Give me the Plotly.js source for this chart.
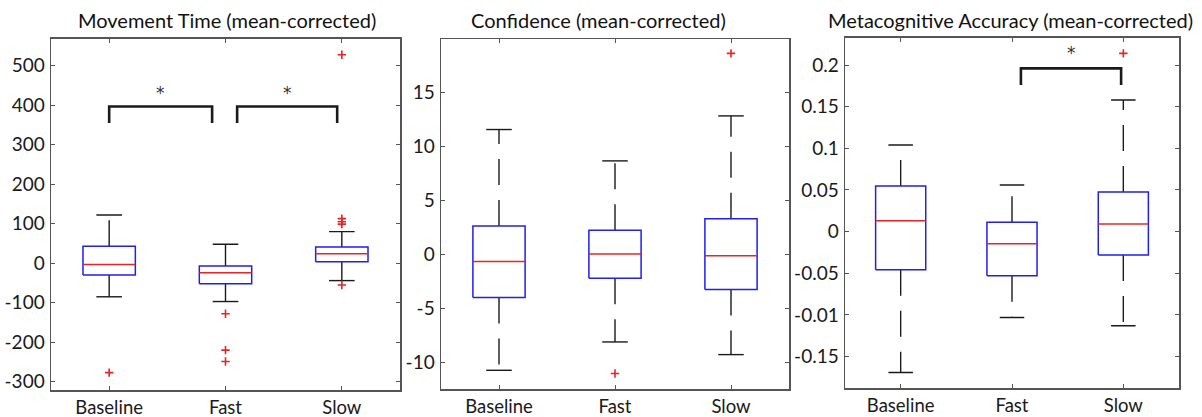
<!DOCTYPE html>
<html>
<head>
<meta charset="utf-8">
<script src="https://cdn.plot.ly/plotly-3.0.1.min.js"></script>
<style>
  html, body { margin: 0; padding: 0; background: #ffffff; }
  #chart { width: 1202px; height: 417px; }
</style>
</head>
<body>
<div id="chart"></div>
<script>
// ---------- data ----------
const categories = ["Baseline", "Fast", "Slow"];
const panelTitles = ["Movement Time (mean-corrected)", "Confidence (mean-corrected)", "Metacognitive Accuracy (mean-corrected)"];

// Movement Time
const mtLower    = [-85, -97, -44];
const mtQ1       = [-30, -52, 4];
const mtMedian   = [-3, -24, 24];
const mtQ3       = [43, -7, 41];
const mtUpper    = [122, 48, 80];
const mtOutliers = [[-277], [-128, -220, -249], [528, 113, 105, 99, -55]];
const mtTicks    = [-300, -200, -100, 0, 100, 200, 300, 400, 500];
const mtTickText = ["-300", "-200", "-100", "0", "100", "200", "300", "400", "500"];
const mtRange    = [-321, 569];
const mtSigX     = [[0, 0.885], [1.1, 1.96]];
const mtSigY     = [355, 397];
const mtStarY    = 432;

// Confidence
const confLower    = [-10.7, -8.08, -9.25];
const confQ1       = [-3.98, -2.19, -3.24];
const confMedian   = [-0.65, 0.06, -0.12];
const confQ3       = [2.65, 2.25, 3.30];
const confUpper    = [11.56, 8.66, 12.82];
const confOutliers = [[], [-11.0], [18.6]];
const confTicks    = [-10, -5, 0, 5, 10, 15];
const confTickText = ["-10", "-5", "0", "5", "10", "15"];
const confRange    = [-12.43, 19.93];

// Metacognitive Accuracy
const metaLower    = [-0.169, -0.103, -0.113];
const metaQ1       = [-0.0456, -0.0528, -0.028];
const metaMedian   = [0.0132, -0.0144, 0.0092];
const metaQ3       = [0.0548, 0.0112, 0.0476];
const metaUpper    = [0.104, 0.056, 0.158];
const metaOutliers = [[], [], [0.214]];
const metaTicks    = [-0.15, -0.1, -0.05, 0, 0.05, 0.1, 0.15, 0.2];
const metaTickText = ["-0.15", "-0.01", "-0.05", "0", "0.05", "0.1", "0.15", "0.2"];
const metaRange    = [-0.188, 0.233];
const metaSigX     = [[1.08, 1.98]];
const metaSigY     = [0.176, 0.196];
const metaStarY    = 0.2145;

// ---------- styling ----------
const W = 1202, H = 417;
const FONT = "Lato, Open Sans, sans-serif";
const BOX_HALF = 0.225, CAP_HALF = 0.11;
const BLUE = "#1f1fee", RED = "#ee2222", BLACK = "#1a1a1a", FRAME = "#555555";

const panels = [
  {lo: mtLower, q1: mtQ1, med: mtMedian, q3: mtQ3, hi: mtUpper, out: mtOutliers,
   ticks: mtTicks, tickText: mtTickText, range: mtRange, sigX: mtSigX, sigY: mtSigY, starY: mtStarY,
   px: [51, 400], py: [38.5, 390], titleX: 227},
  {lo: confLower, q1: confQ1, med: confMedian, q3: confQ3, hi: confUpper, out: confOutliers,
   ticks: confTicks, tickText: confTickText, range: confRange, sigX: [], sigY: null, starY: null,
   px: [441, 789], py: [39, 389], titleX: 598},
  {lo: metaLower, q1: metaQ1, med: metaMedian, q3: metaQ3, hi: metaUpper, out: metaOutliers,
   ticks: metaTicks, tickText: metaTickText, range: metaRange, sigX: metaSigX, sigY: metaSigY, starY: metaStarY,
   px: [845, 1179], py: [37.5, 388.3], titleX: 1010}
];

const traces = [];
const annotations = [];
const layout = {
  width: W, height: H,
  margin: {l: 0, r: 0, t: 0, b: 0},
  paper_bgcolor: "#ffffff", plot_bgcolor: "#ffffff",
  showlegend: false, hovermode: false,
  font: {family: FONT, color: "#222222", size: 18}
};

panels.forEach((p, k) => {
  const n = k === 0 ? "" : String(k + 1);
  const xa = "x" + n, ya = "y" + n;
  const common = {
    showline: true, linecolor: FRAME, linewidth: 1.5, mirror: "ticks",
    ticks: "inside", ticklen: 4, tickwidth: 1, tickcolor: FRAME,
    showgrid: false, zeroline: false, fixedrange: true
  };
  layout["xaxis" + n] = Object.assign({}, common, {
    domain: [p.px[0] / W, p.px[1] / W], anchor: ya,
    range: [-0.5, 2.5], tickmode: "array", tickvals: [0, 1, 2], ticktext: categories,
    ticklabelstandoff: 0,
    tickfont: {family: FONT, size: 18.5, color: "#1a1a1a"}
  });
  layout["yaxis" + n] = Object.assign({}, common, {
    domain: [1 - p.py[1] / H, 1 - p.py[0] / H], anchor: xa,
    range: p.range, tickmode: "array", tickvals: p.ticks, ticktext: p.tickText,
    ticklabelstandoff: 1,
    tickfont: {family: FONT, size: 19, color: "#1a1a1a"}
  });

  categories.forEach((c, i) => {
    // whiskers (dashed, drawn from the box outward)
    traces.push({type: "scatter", mode: "lines", xaxis: xa, yaxis: ya,
      x: [i, i], y: [p.q3[i], p.hi[i]], line: {color: BLACK, width: 1.4, dash: "26px,15px"}});
    traces.push({type: "scatter", mode: "lines", xaxis: xa, yaxis: ya,
      x: [i, i], y: [p.q1[i], p.lo[i]], line: {color: BLACK, width: 1.4, dash: "26px,15px"}});
    // caps
    traces.push({type: "scatter", mode: "lines", xaxis: xa, yaxis: ya,
      x: [i - CAP_HALF, i + CAP_HALF, null, i - CAP_HALF, i + CAP_HALF],
      y: [p.hi[i], p.hi[i], null, p.lo[i], p.lo[i]],
      line: {color: BLACK, width: 1.4}});
    // box
    traces.push({type: "scatter", mode: "lines", xaxis: xa, yaxis: ya,
      x: [i - BOX_HALF, i + BOX_HALF, i + BOX_HALF, i - BOX_HALF, i - BOX_HALF],
      y: [p.q1[i], p.q1[i], p.q3[i], p.q3[i], p.q1[i]],
      line: {color: BLUE, width: 1.5}});
    // median
    traces.push({type: "scatter", mode: "lines", xaxis: xa, yaxis: ya,
      x: [i - BOX_HALF, i + BOX_HALF], y: [p.med[i], p.med[i]],
      line: {color: RED, width: 1.5}});
    // outliers
    if (p.out[i].length) {
      traces.push({type: "scatter", mode: "markers", xaxis: xa, yaxis: ya,
        x: p.out[i].map(() => i), y: p.out[i],
        marker: {symbol: "cross-thin-open", size: 6, color: RED, line: {color: RED, width: 1.6}}});
    }
  });

  // significance brackets
  p.sigX.forEach(([a, b]) => {
    traces.push({type: "scatter", mode: "lines", xaxis: xa, yaxis: ya,
      x: [a, a, b, b], y: [p.sigY[0], p.sigY[1], p.sigY[1], p.sigY[0]],
      line: {color: BLACK, width: 2.6}});
    annotations.push({xref: xa, yref: ya, x: (a + b) / 2, y: p.starY, text: "*",
      showarrow: false, xanchor: "center", yanchor: "middle",
      font: {family: "DejaVu Sans, sans-serif", size: 17, color: "#333333"}});
  });

  // panel title
  annotations.push({xref: "paper", yref: "paper", x: p.titleX / W, y: 1 - 20 / H,
    text: panelTitles[k], showarrow: false, xanchor: "center", yanchor: "middle",
    font: {family: FONT, size: 20, color: "#111111"}});
});

layout.annotations = annotations;
Plotly.newPlot("chart", traces, layout, {displayModeBar: false, staticPlot: true});
</script>
</body>
</html>
